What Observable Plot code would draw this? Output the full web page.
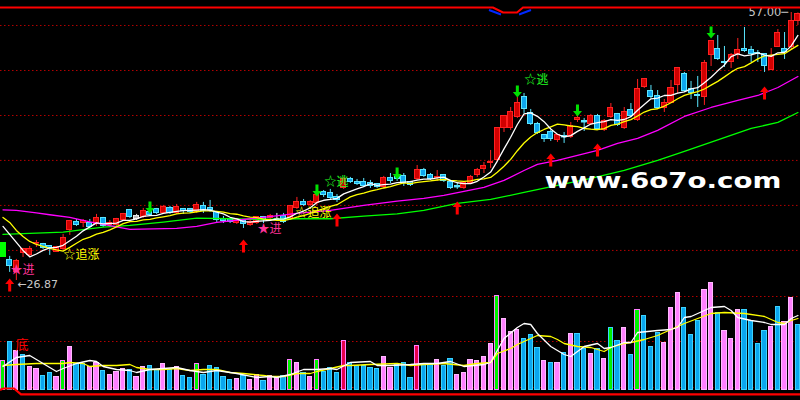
<!DOCTYPE html>
<html><head><meta charset="utf-8">
<script src="https://cdn.jsdelivr.net/npm/d3@7"></script>
<script src="https://cdn.jsdelivr.net/npm/@observablehq/plot@0.6"></script>
<style>
html,body{margin:0;padding:0;background:#000;}
#wrap{position:relative;width:800px;height:400px;background:#000;overflow:hidden;}
#wrap > svg{position:absolute;left:0;top:0;}
</style></head><body><div id="wrap"></div>
<script>
// ---- price candles (index 0..119) ----
const OPEN = [31.04,29.13,27.78,29.91,29.69,31.04,30.92,30.70,30.03,30.36,
 32.50,33.40,33.28,33.28,33.17,33.85,33.06,33.06,33.62,34.75,
 34.07,33.96,34.52,34.86,34.41,34.97,34.41,34.86,34.86,34.52,
 35.20,34.97,34.52,33.73,33.73,33.28,33.51,33.06,33.28,33.96,
 33.85,33.85,34.07,33.73,34.97,35.65,35.31,35.53,36.77,36.66,
 36.21,37.22,38.23,37.89,37.89,37.78,37.67,37.33,38.34,38.46,
 38.57,37.89,38.23,39.24,38.68,38.45,38.68,37.89,37.44,37.22,
 37.78,38.68,39.35,40.03,40.37,43.96,44.07,45.20,47.45,45.65,
 44.52,43.18,43.62,42.61,43.06,42.95,44.86,44.75,44.41,45.31,
 43.74,45.20,45.54,43.96,45.99,44.97,48.57,48.12,47.56,46.21,
 46.88,48.80,50.14,48.35,47.78,47.45,52.17,52.95,51.49,51.38,
 52.28,52.95,52.73,52.45,52.28,50.59,53.07,52.95,53.07,56.10];
const CLOSE = [29.46,28.45,29.01,30.36,30.36,31.06,30.48,30.48,30.59,31.60,
 33.51,33.06,33.51,32.83,33.85,32.95,33.28,33.73,34.30,33.96,
 33.73,34.63,34.19,34.41,35.08,34.41,35.08,34.63,34.52,35.31,
 34.63,34.75,33.62,33.51,33.40,33.73,33.17,33.40,33.96,33.62,
 34.07,33.85,33.40,35.20,35.65,35.31,35.65,36.43,36.43,36.10,
 35.87,38.23,37.89,37.72,37.44,37.44,37.33,38.34,38.01,38.23,
 37.78,37.56,39.24,38.57,38.23,38.47,38.01,37.22,37.39,37.78,
 38.46,39.24,39.69,40.14,43.96,45.31,45.76,46.88,46.10,44.52,
 43.40,42.73,42.73,43.18,43.01,44.19,45.09,44.69,45.31,43.85,
 44.75,46.21,44.30,45.76,45.42,48.35,49.47,47.45,46.21,46.88,
 48.46,50.71,48.12,47.90,47.56,51.27,53.74,51.72,51.27,52.17,
 52.84,52.62,52.28,52.40,50.93,52.06,54.64,52.51,56.10,56.78];
const HIGH = [31.04,29.58,29.24,30.48,30.70,31.37,31.04,30.70,30.70,32.05,
 33.62,33.73,33.73,33.73,34.30,33.96,33.62,33.85,34.41,34.86,
 34.30,34.97,34.75,34.97,35.31,35.20,35.42,34.97,34.97,35.65,
 35.65,35.87,34.63,34.07,33.85,33.85,33.62,33.62,34.07,34.07,
 34.30,34.41,34.41,35.31,36.21,35.98,35.87,36.66,36.99,37.11,
 36.54,38.46,38.46,38.23,38.34,38.12,37.78,38.57,38.90,38.68,
 38.90,38.01,39.80,39.47,38.90,39.24,38.79,38.12,37.78,37.89,
 38.68,39.47,40.14,41.49,44.07,45.42,46.32,47.45,47.90,46.10,
 44.64,43.29,43.74,43.29,43.51,44.64,45.31,45.09,45.54,45.54,
 44.97,46.77,45.65,46.32,46.77,49.47,49.58,48.80,48.23,47.22,
 49.36,50.82,50.26,49.25,49.81,51.61,53.85,54.42,53.18,52.39,
 54.08,55.32,53.18,52.73,52.39,52.95,55.09,54.75,57.00,56.95];
const LOW = [29.46,27.78,26.87,29.46,29.46,30.59,30.36,29.69,30.03,30.14,
 31.94,32.95,32.83,32.72,32.95,32.83,32.83,32.95,33.51,33.85,
 33.62,33.85,34.07,34.30,34.30,34.30,34.30,34.30,34.41,34.41,
 34.41,34.52,33.40,33.28,33.28,33.17,32.72,32.95,33.17,33.28,
 33.62,33.62,33.28,33.62,34.86,35.20,35.20,35.31,36.21,35.87,
 35.65,37.11,37.78,37.56,37.33,37.22,37.22,37.22,37.78,38.01,
 37.44,37.44,38.12,38.46,38.12,38.01,37.89,37.11,37.11,37.11,
 37.67,38.46,38.90,39.47,40.25,43.51,43.74,45.09,45.65,44.30,
 43.29,42.39,42.50,42.39,42.28,42.84,44.64,43.62,44.30,43.74,
 43.62,45.09,44.19,43.85,45.20,44.75,48.46,47.33,46.10,45.76,
 46.77,47.90,48.01,47.22,46.32,46.55,50.93,51.61,50.82,50.71,
 51.72,52.51,51.38,51.38,50.26,50.48,53.07,51.72,52.73,55.54];
// candles drawn in a special colour: index -> [fill, edge]
const SPECIAL_CANDLES = {0: ["#00ff00", "#00ff00"], 20: ["#b8b8b8", "#e8e8e8"]};

// ---- moving average lines (price) ----
const MA5 = [32.95,32.05,31.15,30.25,29.53,29.85,30.25,30.54,30.59,30.83,
 31.33,31.85,32.45,32.90,33.35,33.24,33.28,33.33,33.62,33.64,
 33.80,34.07,34.16,34.19,34.41,34.54,34.63,34.72,34.75,34.79,
 34.84,34.77,34.57,34.36,33.98,33.80,33.49,33.44,33.53,33.58,
 33.64,33.78,33.78,34.03,34.43,34.68,35.04,35.65,35.89,35.98,
 36.10,36.61,36.90,37.16,37.43,37.75,37.57,37.66,37.71,37.87,
 37.94,37.98,38.16,38.27,38.27,38.41,38.50,38.10,37.86,37.77,
 37.77,38.02,38.51,39.06,40.30,41.67,42.97,44.41,45.60,45.72,
 45.33,44.73,43.90,43.31,43.01,43.16,43.64,44.03,44.46,44.63,
 44.74,44.96,44.88,44.97,45.29,46.01,46.66,47.29,47.38,47.67,
 47.69,47.94,48.08,48.41,48.55,49.11,49.72,50.44,51.11,52.03,
 52.35,52.12,52.24,52.47,52.22,52.07,52.47,52.52,53.25,54.42];
const MA10 = [33.96,33.40,32.50,31.82,31.26,30.92,30.70,30.48,30.31,30.18,
 30.59,31.05,31.50,31.74,32.09,32.28,32.57,32.89,33.26,33.50,
 33.52,33.68,33.75,33.90,34.03,34.17,34.35,34.44,34.47,34.60,
 34.69,34.70,34.64,34.55,34.39,34.32,34.13,34.00,33.95,33.78,
 33.72,33.63,33.61,33.78,34.00,34.16,34.41,34.71,34.96,35.21,
 35.39,35.83,36.27,36.52,36.70,36.91,37.08,37.27,37.43,37.65,
 37.84,37.77,37.90,37.99,38.07,38.17,38.24,38.13,38.06,38.02,
 38.08,38.25,38.30,38.46,39.03,39.71,40.49,41.46,42.33,43.01,
 43.50,43.85,44.15,44.46,44.36,44.24,44.18,43.96,43.88,43.82,
 43.95,44.30,44.46,44.72,44.95,45.37,45.81,46.09,46.18,46.48,
 46.85,47.30,47.68,47.90,48.11,48.40,48.83,49.26,49.76,50.29,
 50.73,50.92,51.34,51.79,52.12,52.20,52.29,52.37,52.85,53.31];
const MAG_I = [0,2,5,7,10,13,17,19,26,29,32,36,39,44,49,54,59,63,66,69,72,75,78,80,83,86,89,92,95,98,102,106,110,113,116,119];
const MAG_V = [34.82,34.75,34.47,34.26,33.96,33.45,32.89,32.61,32.72,32.95,33.40,33.73,33.96,34.41,34.75,35.31,35.79,36.10,36.43,36.88,37.33,38.12,39.24,39.92,40.37,40.93,41.49,42.28,42.84,43.74,45.31,46.32,47.11,47.67,48.57,49.81];
const GRN_I = [0,5,9,12,15,19,24,29,34,39,44,49,54,59,63,68,73,78,83,88,93,98,102,112,116,119];
const GRN_V = [32.05,32.19,32.31,32.58,32.87,33.06,33.43,33.88,33.81,33.73,33.81,33.81,34.10,34.37,34.75,35.53,35.98,36.77,37.56,38.34,39.24,40.37,41.38,43.96,44.64,45.76];

// ---- volume ----
const VOLUME = [29,48,39,35,23,21,14,17,13,29,
 43,26,26,23,27,19,15,18,21,20,
 13,23,24,20,26,20,23,14,12,26,
 15,24,22,13,10,11,14,10,15,9,
 14,12,14,30,27,17,13,30,18,22,
 17,49,27,24,24,22,21,33,22,25,
 27,12,44,25,25,30,24,31,15,17,
 30,29,33,46,94,71,58,60,51,55,
 42,29,27,27,37,56,56,41,36,41,
 31,62,49,62,35,80,74,43,57,47,
 82,97,82,55,69,100,107,77,59,51,
 80,80,69,46,59,63,83,68,92,65];
// p pink, b blue, g green (pink edge), G green (blue edge), r crimson
const VOL_COLOR = "gbpbppbbpg" + "pbbppbpppb" + "ppbbpbpbbg" + "bbbbbpbppb" + "ppbgpbpgbb" +
 "brbbbbbppb" + "bbrbbpbbpp" + "ppppgpppbb" + "bpbpbpbbpb" + "pGbpbgbbbp" + "ppbbbppbpp" + "pbbbbpbppb";
const VMA5_I = [0,2,4,5,7,8,9,11,13,14,15,17,19,20,22,26,28,30,32,35,38,40,41,43,45,47,49,50,52,55,56,58,61,63,65,67,69,72,73,74,75,77,78,79,80,82,84,85,86,87,89,90,91,93,94,95,98,100,101,102,103,105,106,108,109,110,112,114,115,117,118,119];
const VMA5_V = [23,32,34,30,22,18,21,26,29,28,23,20,19,17,20,22,19,17,19,16,12,13,12,15,20,20,21,20,27,28,24,24,25,26,26,28,23,25,27,39,51,62,66,65,56,43,35,33,38,43,46,41,42,47,47,57,59,60,62,72,73,79,82,83,79,72,69,67,65,65,71,74];
const VMA10_I = [0,2,5,9,10,12,13,15,17,19,20,22,24,26,28,30,32,34,36,39,40,42,44,46,47,49,51,52,55,59,61,63,66,69,71,73,74,76,77,79,80,82,83,84,86,88,89,90,91,93,94,96,98,100,102,104,106,108,111,114,116,117,118,119];
const VMA10_V = [24,25,26,26,27,26,23,24,24,25,22,20,20,21,19,20,20,17,16,14,13,13,16,16,18,21,24,24,25,26,24,25,26,24,26,27,36,41,45,51,54,53,50,46,43,42,40,38,42,46,47,50,54,60,66,71,76,77,76,73,67,66,69,71];

// ---- signals & labels ----
const UP_I = [1,36,50,68,82,89,114];
const UP_P = [27.10,31.49,34.41,35.76,41.15,42.28,48.69];
const DOWN_I = [22,47,59,77,86,106];
const DOWN_P = [34.41,36.32,38.23,47.45,45.31,54.08];
const LABEL_TEXT = ["★进","☆追涨","★进","☆追涨","☆逃","☆逃"];
const LABEL_COLOR = ["#ff3399","#ffff00","#ff3399","#ffff00","#22ff22","#22ff22"];
const LABEL_I = [1.12,9.06,38.1,43.79,48.13,78.07];
const LABEL_P = [28.05,29.69,32.61,34.41,37.89,49.41];
const LOW_MARK = {i: 2, p: 26.87, t: "←26.87"};
const HIGH_MARK = {i: 118, p: 57.00, t: "57.00─"};
const VOL_LABEL = {i: 1.87, v: 45, t: "底"};
const WATERMARK = "www.6o7o.com";
const GRID_PRICE = [55.54, 50.48, 45.42, 40.37, 35.31, 30.25];
const GRID_VOL = [93, 48, 2];

// ---- build ----
const candles = OPEN.map((o, i) => ({i, open: o, close: CLOSE[i], high: HIGH[i], low: LOW[i]}));
const kind = d => d.close > d.open ? "u" : d.close < d.open ? "d" : "f";
const FILL = {u: "#d20000", d: "#0ea6ee", f: "#ffffff"};
const EDGE = {u: "#ff2020", d: "#5ae6ff", f: "#ffffff"};
const fillOf = d => SPECIAL_CANDLES[d.i] ? SPECIAL_CANDLES[d.i][0] : FILL[kind(d)];
const edgeOf = d => SPECIAL_CANDLES[d.i] ? SPECIAL_CANDLES[d.i][1] : EDGE[kind(d)];
const pairs = (I, V) => I.map((i, k) => ({i, v: V[k]}));

const arrowShape = {draw(c, l) {
  const h = 5.5, hw = 4.5, sw = 1.5;
  c.moveTo(-sw, 0); c.lineTo(-sw, -l + h); c.lineTo(-hw, -l + h); c.lineTo(0, -l);
  c.lineTo(hw, -l + h); c.lineTo(sw, -l + h); c.lineTo(sw, 0); c.closePath();
}};

const xScale = {type: "linear", domain: [-0.374, 119.386], range: [0, 800], axis: null};
const cjk = "Noto Sans CJK SC";

const volume = Plot.plot({
  width: 800, height: 400, margin: 0,
  x: xScale,
  y: {type: "linear", domain: [0, 107], range: [389, 282], axis: null},
  style: {background: "transparent", color: "white"},
  marks: [
    Plot.ruleY(GRID_VOL, {stroke: "#b40000", strokeDasharray: "1.5,2.5"}),
    Plot.rect(VOLUME.map((v, i) => ({i, v, c: VOL_COLOR[i]})), {
      x1: d => d.i - 0.32, x2: d => d.i + 0.32, y1: 0, y2: "v",
      fill: d => ({p: "#ff80ff", b: "#0aa6ee", g: "#00f000", G: "#00f000", r: "#e8004c"})[d.c],
      stroke: d => ({p: "#ffb8ff", b: "#3ad2ff", g: "#ff80ff", G: "#3ad2ff", r: "#ff80ff"})[d.c],
      strokeWidth: 1, shapeRendering: "crispEdges"
    }),
    Plot.line(pairs(VMA10_I, VMA10_V), {x: "i", y: "v", stroke: "#ffff00", strokeWidth: 1.3}),
    Plot.line(pairs(VMA5_I, VMA5_V), {x: "i", y: "v", stroke: "#ffffff", strokeWidth: 1.3}),
    Plot.text([VOL_LABEL], {x: "i", y: "v", text: "t", fill: "#ff0000", fontSize: 13, fontFamily: cjk, textAnchor: "start"})
  ]
});

const price = Plot.plot({
  width: 800, height: 400, margin: 0,
  x: xScale,
  y: {type: "linear", domain: [26.87, 57], range: [280, 12], axis: null},
  style: {background: "transparent", color: "white"},
  marks: [
    Plot.ruleY(GRID_PRICE, {stroke: "#b40000", strokeDasharray: "1.5,2.5"}),
    Plot.ruleX(candles, {x: "i", y1: "low", y2: "high", stroke: edgeOf, strokeWidth: 1}),
    Plot.rect(candles, {x1: d => d.i - 0.38, x2: d => d.i + 0.38, y1: "open", y2: "close",
      fill: fillOf, stroke: edgeOf, strokeWidth: 1, shapeRendering: "crispEdges"}),
    Plot.ruleY(candles.filter(d => Math.abs(d.open - d.close) < 0.12), {
      y: "close", x1: d => d.i - 0.42, x2: d => d.i + 0.42, stroke: edgeOf, strokeWidth: 1}),
    Plot.line(pairs(GRN_I, GRN_V), {x: "i", y: "v", stroke: "#00ff00", strokeWidth: 1.3}),
    Plot.line(pairs(MAG_I, MAG_V), {x: "i", y: "v", stroke: "#ff00ff", strokeWidth: 1.3}),
    Plot.line(MA10.map((v, i) => ({i, v})), {x: "i", y: "v", stroke: "#ffff00", strokeWidth: 1.3}),
    Plot.line(MA5.map((v, i) => ({i, v})), {x: "i", y: "v", stroke: "#ffffff", strokeWidth: 1.3}),
    Plot.vector(pairs(UP_I, UP_P), {x: "i", y: "v", length: 13, rotate: 0, anchor: "end",
      shape: arrowShape, fill: "#ff0000", stroke: "none"}),
    Plot.vector(pairs(DOWN_I, DOWN_P), {x: "i", y: "v", length: 12, rotate: 180, anchor: "end",
      shape: arrowShape, fill: "#00e000", stroke: "none"}),
    Plot.text(LABEL_TEXT.map((t, k) => ({t, i: LABEL_I[k], p: LABEL_P[k], c: LABEL_COLOR[k]})), {
      x: "i", y: "p", text: "t", fill: "c", fontSize: 12, fontFamily: cjk, textAnchor: "start"}),
    Plot.text([LOW_MARK], {x: "i", y: "p", text: "t", fill: "#c8c8c8", fontSize: 11,
      fontFamily: "DejaVu Sans", textAnchor: "start", dx: 1, dy: 4}),
    Plot.text([HIGH_MARK], {x: "i", y: "p", text: "t", fill: "#c8c8c8", fontSize: 11.5,
      fontFamily: "DejaVu Sans", textAnchor: "end", dx: -3}),
    Plot.text([WATERMARK], {frameAnchor: "top-left", dx: 544, dy: 180, text: d => d,
      fill: "#ffffff", fontSize: 22, fontWeight: "bold", fontFamily: "DejaVu Sans",
      textAnchor: "start", lineAnchor: "middle", ariaLabel: "watermark"})
  ]
});

const s = d3.select(price);
// window frame lines
s.append("path").attr("d", "M489,10L501,14.5M519,14.5L531,10").attr("stroke", "#0028ff").attr("stroke-width", 2).attr("fill", "none");
s.append("path").attr("d", "M0,7.5H493L503,12.5H517L523,7.5H800").attr("stroke", "#ff0000").attr("stroke-width", 2).attr("fill", "none");
s.append("path").attr("d", "M0,390L3,388.5H14L21,394.3H800").attr("stroke", "#ff0000").attr("stroke-width", 2.2).attr("fill", "none");

const wrap = document.getElementById("wrap");
wrap.appendChild(volume);
wrap.appendChild(price);

// stretch the watermark horizontally to the reference's width (544..781)
const wm = s.selectAll("text").filter(function () { return this.textContent === WATERMARK; });
wm.each(function () {
  const w = this.getBBox().width;
  const g = this.parentNode;
  const k = w > 0 ? 237 / w : 1;
  const prev = g.getAttribute("transform") || "";
  if (prev.includes("translate")) {
    g.setAttribute("transform", prev + ` scale(${k},1)`);
  } else {
    g.setAttribute("transform", `translate(544,0) scale(${k},1) translate(-544,0)`);
  }
});
</script></body></html>
